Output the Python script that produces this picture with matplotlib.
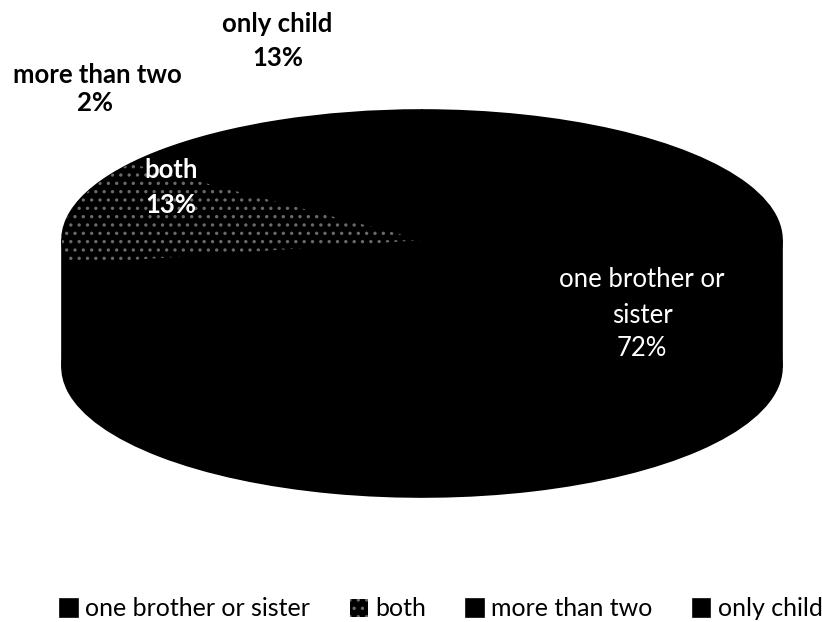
import matplotlib.pyplot as plt
import numpy as np

plt.rcParams['font.family'] = ['Lato', 'DejaVu Sans']
plt.rcParams['hatch.linewidth'] = 1.2

labels = ['one brother or sister', 'both', 'more than two', 'only child']
values = [72, 13, 2, 13]
colors = ['#000000', '#000000', '#000000', '#000000']
hatches = [None, '..', None, None]

W, H = 822, 622
# pie geometry in pixels: centre of top face, radii, depth of the side
cx, cy, rx, ry, depth = 422, 240, 360, 130, 127

fig = plt.figure(figsize=(W / 100, H / 100), dpi=100)
ax = fig.add_axes([0, 0, 1, 1])

d = depth / ry
solid = dict(linewidth=1.2, edgecolor='black')
# bottom face + side
ax.pie(values, colors=colors, startangle=90, counterclock=False,
       center=(0, -d), radius=1, wedgeprops=solid)
ax.fill_between([-1, 1], [-d, -d], [0, 0], color='black', linewidth=1.2)
# top face
wedges, _ = ax.pie(values, colors=colors, startangle=90, counterclock=False,
                   radius=1, wedgeprops=solid)
# texture of the "both" slice
over, _ = ax.pie(values, colors=['none'] * 4, startangle=90, counterclock=False,
                 radius=1, wedgeprops=dict(linewidth=0))
for w, h, c in zip(over, hatches, colors):
    if h:
        w.set_facecolor(c)
        w.set_hatch(h)
        w.set_edgecolor('#6a6a6a')
        w.set_linewidth(0)

ax.set_aspect('auto')
ax.set_xlim(-cx / rx, (W - cx) / rx)
ax.set_ylim((cy - H) / ry, cy / ry)
ax.axis('off')

def put(x, y, s, **kw):
    fig.text(x / W, 1 - y / H, s, ha='center', va='center', **kw)

fs = 18.5
put(277, 24, 'only child', fontsize=fs, fontweight='bold', color='black')
put(278, 58, '13%', fontsize=fs, fontweight='bold', color='black')
put(97, 75, 'more than two', fontsize=fs, fontweight='bold', color='black')
put(95, 103, '2%', fontsize=fs, fontweight='bold', color='black')
put(171, 170, 'both', fontsize=fs, fontweight='bold', color='white')
put(171, 205, '13%', fontsize=fs, fontweight='bold', color='white')
put(642, 280, 'one brother or', fontsize=fs, color='white')
put(642, 315, 'sister', fontsize=fs, color='white')
put(642, 348, '72%', fontsize=fs, color='white')

handles = [over[i] if hatches[i] else wedges[i] for i in range(len(labels))]
fig.legend(handles, labels, loc='center', bbox_to_anchor=(0.537, 1 - 609 / H),
           ncol=4, frameon=False, fontsize=18, handlelength=0.7,
           handleheight=0.7, handletextpad=0.3, columnspacing=1.6,
           borderaxespad=0, borderpad=0)

fig.savefig('out.png', dpi=100, facecolor='white')
